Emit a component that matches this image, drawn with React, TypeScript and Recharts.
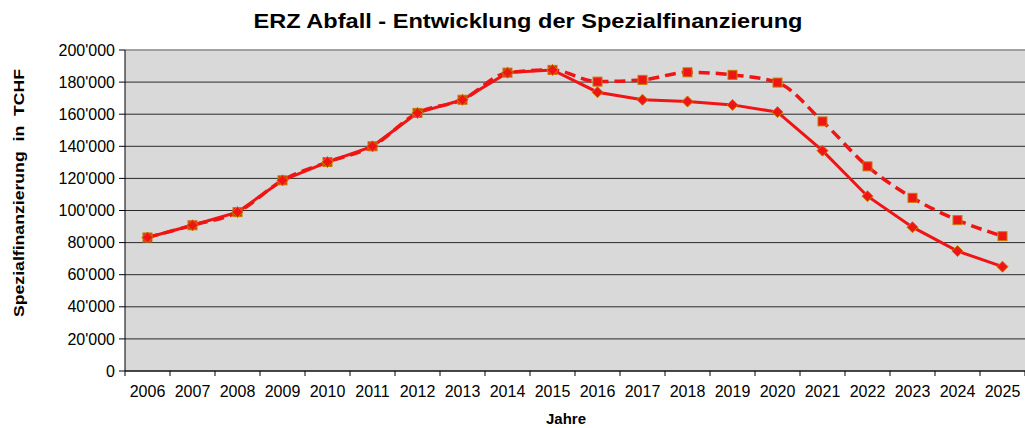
import { LineChart, Line, XAxis, YAxis, CartesianGrid, ReferenceLine } from "recharts"

const YEARS = [
  "2006", "2007", "2008", "2009", "2010", "2011", "2012", "2013", "2014", "2015",
  "2016", "2017", "2018", "2019", "2020", "2021", "2022", "2023", "2024", "2025",
]

// solid line with diamonds
const PLAN_A = [
  83200, 90800, 99000, 118800, 130200, 140000, 160800, 169000, 185900, 187600,
  173700, 169000, 167900, 165800, 161300, 137300, 108900, 89600, 74700, 65000,
]

// dashed line with squares
const PLAN_B = [
  83200, 90800, 99000, 118800, 130200, 140000, 160800, 169000, 185900, 187600,
  180300, 181400, 186100, 184500, 179700, 155500, 127500, 107900, 94000, 84000,
]

const Y_TICKS = [0, 20000, 40000, 60000, 80000, 100000, 120000, 140000, 160000, 180000, 200000]

const W = 1025
const H = 428
const AXIS_W = 125
const HALF_BAND = (W - AXIS_W) / YEARS.length / 2

const RED = "#f01414"
const EDGE = "#c87a00"
const FONT = "'Liberation Sans', Arial, sans-serif"

const data = YEARS.map((year, i) => ({ year, a: PLAN_A[i], b: PLAN_B[i] }))

const fmt = (v: number) => String(v).replace(/\B(?=(\d{3})+(?!\d))/g, "'")

function Diamond(props: any) {
  const { cx, cy } = props
  if (cx == null || cy == null) return null
  const r = 5.5
  return (
    <path
      d={`M${cx},${cy - r}L${cx + r},${cy}L${cx},${cy + r}L${cx - r},${cy}Z`}
      fill={RED}
      stroke={EDGE}
      strokeWidth={1}
    />
  )
}

function Square(props: any) {
  const { cx, cy } = props
  if (cx == null || cy == null) return null
  const r = 4.5
  return <rect x={cx - r} y={cy - r} width={2 * r} height={2 * r} fill={RED} stroke={EDGE} strokeWidth={1} />
}

function YearTick(props: any) {
  const { x, y, payload, index } = props
  return (
    <g>
      <line x1={x - HALF_BAND} x2={x - HALF_BAND} y1={y} y2={y + 5} stroke="#000" />
      {index === YEARS.length - 1 && (
        <line x1={x + HALF_BAND} x2={x + HALF_BAND} y1={y} y2={y + 5} stroke="#000" />
      )}
      <text x={x} y={y + 26} textAnchor="middle" fontSize={16} fontFamily={FONT} fill="#000">
        {payload.value}
      </text>
    </g>
  )
}

export default function App() {
  return (
    <div style={{ position: "absolute", left: 0, top: 0, width: W, height: H, background: "#fff" }}>
      <LineChart width={W} height={H} data={data} margin={{ top: 50, right: 0, bottom: 27, left: 0 }}>
        <CartesianGrid vertical={false} stroke="#2a2a2a" fill="#d9d9d9" fillOpacity={1} />
        <ReferenceLine y={200000} stroke="#a8a8a8" strokeWidth={1.5} />
        <XAxis
          dataKey="year"
          height={30}
          padding={{ left: HALF_BAND, right: HALF_BAND }}
          tickLine={false}
          tickSize={0}
          tickMargin={0}
          axisLine={{ stroke: "#000" }}
          tick={<YearTick />}
          interval={0}
        />
        <YAxis
          width={AXIS_W}
          domain={[0, 200000]}
          ticks={Y_TICKS}
          interval={0}
          tickFormatter={fmt}
          tickSize={6}
          tickMargin={4}
          axisLine={{ stroke: "#000" }}
          tickLine={{ stroke: "#000" }}
          tick={{ fontSize: 16, fontFamily: FONT, fill: "#000" }}
        />
        <Line
          type="monotone"
          dataKey="b"
          stroke={RED}
          strokeWidth={3.5}
          strokeDasharray="11 6"
          dot={<Square />}
          activeDot={false}
          isAnimationActive={false}
        />
        <Line
          type="linear"
          dataKey="a"
          stroke={RED}
          strokeWidth={3}
          dot={<Diamond />}
          activeDot={false}
          isAnimationActive={false}
        />
      </LineChart>
      <svg
        width={W}
        height={H}
        style={{ position: "absolute", left: 0, top: 0, pointerEvents: "none" }}
      >
        <text
          x={528}
          y={28}
          textAnchor="middle"
          fontFamily={FONT}
          fontWeight="bold"
          fontSize={20}
          textLength={549}
          lengthAdjust="spacingAndGlyphs"
          fill="#000"
        >
          ERZ Abfall - Entwicklung der Spezialfinanzierung
        </text>
        <text
          transform="translate(24,193) rotate(-90)"
          textAnchor="middle"
          fontFamily={FONT}
          fontWeight="bold"
          fontSize={15}
          textLength={248}
          lengthAdjust="spacingAndGlyphs"
          fill="#000"
          style={{ whiteSpace: "pre" }}
        >
          {"Spezialfinanzierung  in  TCHF"}
        </text>
        <text x={566} y={424} textAnchor="middle" fontFamily={FONT} fontWeight="bold" fontSize={15} fill="#000">
          Jahre
        </text>
      </svg>
    </div>
  )
}
